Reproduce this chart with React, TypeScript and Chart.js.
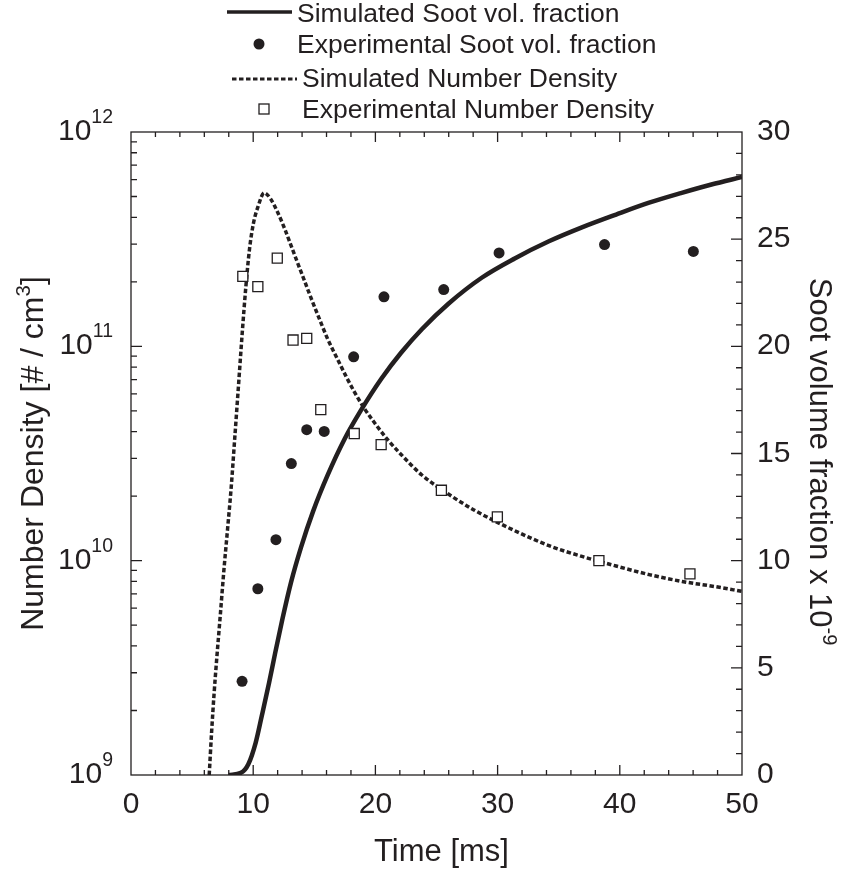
import React, { useEffect, useRef } from 'react';
import { Chart, registerables } from 'chart.js';

Chart.register(...registerables);

// ---------- data ----------
const simSootTime = [8.0, 9.0, 9.6, 10.2, 10.7, 11.3, 11.8, 12.4, 13.1, 13.9, 14.9, 16.1, 17.5, 18.8, 20.5, 22.1, 23.8, 26.0, 28.7, 31.4, 34.2, 36.9, 39.7, 42.4, 45.0, 47.5, 50.0];
const simSootValue = [0, 0.1, 0.5, 1.5, 2.75, 4.3, 5.7, 7.3, 9.0, 10.6, 12.3, 14.0, 15.7, 17.0, 18.5, 19.7, 20.8, 22.0, 23.2, 24.1, 24.9, 25.55, 26.15, 26.7, 27.15, 27.55, 27.9];

const expSootTime = [9.09, 10.38, 11.86, 13.12, 14.38, 15.81, 18.22, 20.7, 25.59, 30.12, 38.75, 46.02];
const expSootValue = [4.37, 8.69, 10.98, 14.53, 16.11, 16.03, 19.51, 22.31, 22.65, 24.36, 24.75, 24.43];

const simNdTime = [6.4, 6.6, 6.8, 7.0, 7.3, 7.6, 7.9, 8.2, 8.5, 8.8, 9.1, 9.4, 9.7, 10.0, 10.4, 10.9, 11.4, 12.0, 12.6, 13.1, 13.6, 14.2, 14.7, 15.4, 16.1, 16.9, 17.6, 18.3, 19.1, 19.9, 21.0, 22.1, 23.8, 26.0, 28.1, 31.4, 34.2, 36.9, 39.7, 42.4, 45.1, 47.9, 50.0];
const simNdValue = [1e9, 1.6e9, 2.4e9, 3.4e9, 5.5e9, 9.0e9, 1.4e10, 2.2e10, 3.8e10, 6.6e10, 1.15e11, 1.9e11, 2.85e11, 3.7e11, 4.5e11, 5.2e11, 4.9e11, 4.22e11, 3.51e11, 2.95e11, 2.48e11, 2.02e11, 1.7e11, 1.35e11, 1.08e11, 8.71e10, 7.24e10, 6.1e10, 5.13e10, 4.42e10, 3.67e10, 3.13e10, 2.51e10, 2.04e10, 1.72e10, 1.38e10, 1.175e10, 1.047e10, 9.44e9, 8.61e9, 8.0e9, 7.55e9, 7.19e9];

const expNdTime = [9.15, 10.38, 11.97, 13.26, 14.38, 15.53, 18.27, 20.47, 25.4, 29.98, 38.29, 45.74];
const expNdValue = [2.12e11, 1.9e11, 2.58e11, 1.07e11, 1.09e11, 5.07e10, 3.92e10, 3.48e10, 2.13e10, 1.6e10, 1.0e10, 8.67e9];

const xTickValues = [0, 10, 20, 30, 40, 50];
const xTickLabels = ['0', '10', '20', '30', '40', '50'];
const leftTickExponents = [9, 10, 11, 12];
const rightTickValues = [0, 5, 10, 15, 20, 25, 30];
const rightTickLabels = ['0', '5', '10', '15', '20', '25', '30'];

const legendLabels = [
  'Simulated Soot vol. fraction',
  'Experimental Soot vol. fraction',
  'Simulated Number Density',
  'Experimental Number Density',
];

// ---------- styling ----------
const INK = '#231f20';
const FONT = '"Liberation Sans", Arial, Helvetica, sans-serif';

type Part = { text: string; sup?: boolean };

function drawRich(
  ctx: CanvasRenderingContext2D,
  parts: Part[],
  x: number,
  y: number,
  size: number,
  supSize: number,
  supRaise: number,
  align: 'left' | 'center' | 'right'
) {
  ctx.textAlign = 'left';
  ctx.textBaseline = 'alphabetic';
  const widths = parts.map((p) => {
    ctx.font = `${p.sup ? supSize : size}px ${FONT}`;
    return ctx.measureText(p.text).width;
  });
  const total = widths.reduce((a, b) => a + b, 0);
  let cx = align === 'center' ? x - total / 2 : align === 'right' ? x - total : x;
  parts.forEach((p, i) => {
    ctx.font = `${p.sup ? supSize : size}px ${FONT}`;
    ctx.fillText(p.text, cx, p.sup ? y - supRaise : y);
    cx += widths[i];
  });
}

const framePlugin = {
  id: 'frame',
  afterDraw(chart: any) {
    const { ctx, chartArea: a, scales } = chart;
    const xs = scales.x;
    const ys = scales.y;
    const y2s = scales.y2;
    ctx.save();
    ctx.strokeStyle = INK;
    ctx.fillStyle = INK;
    ctx.lineWidth = 1.3;
    ctx.strokeRect(a.left, a.top, a.right - a.left, a.bottom - a.top);

    ctx.beginPath();
    // x ticks (bottom and top), inward
    for (let t = 2; t < 50; t += 2) {
      const px = xs.getPixelForValue(t);
      const len = t % 10 === 0 ? 10 : 5;
      ctx.moveTo(px, a.bottom);
      ctx.lineTo(px, a.bottom - len);
      ctx.moveTo(px, a.top);
      ctx.lineTo(px, a.top + len);
    }
    // left log ticks
    for (let e = 9; e < 12; e++) {
      for (let m = 1; m < 10; m++) {
        if (e === 9 && m === 1) continue;
        const v = m * Math.pow(10, e);
        const py = ys.getPixelForValue(v);
        const len = m === 1 ? 11 : 6;
        ctx.moveTo(a.left, py);
        ctx.lineTo(a.left + len, py);
      }
    }
    // right linear ticks
    for (let s = 1; s < 30; s++) {
      const py = y2s.getPixelForValue(s);
      const len = s % 5 === 0 ? 11 : 6;
      ctx.moveTo(a.right, py);
      ctx.lineTo(a.right - len, py);
    }
    ctx.stroke();

    // tick labels
    const tickSize = 30;
    xTickValues.forEach((v, i) => {
      drawRich(ctx, [{ text: xTickLabels[i] }], xs.getPixelForValue(v), a.bottom + 38, tickSize, 19, 0, 'center');
    });
    leftTickExponents.forEach((e) => {
      const py = ys.getPixelForValue(Math.pow(10, e));
      drawRich(ctx, [{ text: '10' }, { text: String(e), sup: true }], a.left - 18, py + 8, tickSize, 19.5, 17, 'right');
    });
    rightTickValues.forEach((v, i) => {
      const py = y2s.getPixelForValue(v);
      drawRich(ctx, [{ text: rightTickLabels[i] }], a.right + 15, py + 8, tickSize, 19, 0, 'left');
    });

    // axis titles
    drawRich(ctx, [{ text: 'Time [ms]' }], (a.left + a.right) / 2 + 5, 861, 31, 20, 0, 'center');

    ctx.save();
    ctx.translate(43, (a.top + a.bottom) / 2);
    ctx.rotate(-Math.PI / 2);
    drawRich(ctx, [{ text: 'Number Density [# / cm' }, { text: '3', sup: true }, { text: ']' }], 0, 0, 32, 20.5, 13, 'center');
    ctx.restore();

    ctx.save();
    ctx.translate(810, (a.top + a.bottom) / 2 + 8);
    ctx.rotate(Math.PI / 2);
    drawRich(ctx, [{ text: 'Soot volume fraction x 10' }, { text: '-9', sup: true }], 0, 0, 31, 20, 13, 'center');
    ctx.restore();

    // legend
    const lgSize = 26.5;
    // row 1: solid line
    ctx.lineWidth = 3.5;
    ctx.setLineDash([]);
    ctx.beginPath();
    ctx.moveTo(227, 12);
    ctx.lineTo(292, 12);
    ctx.stroke();
    drawRich(ctx, [{ text: legendLabels[0] }], 297, 22, lgSize, 18, 0, 'left');
    // row 2: filled circle
    ctx.beginPath();
    ctx.arc(259, 44, 5.5, 0, Math.PI * 2);
    ctx.fill();
    drawRich(ctx, [{ text: legendLabels[1] }], 297, 53, lgSize, 18, 0, 'left');
    // row 3: dashed line
    ctx.lineWidth = 3;
    ctx.setLineDash([4.5, 2.5]);
    ctx.beginPath();
    ctx.moveTo(232, 79);
    ctx.lineTo(297, 79);
    ctx.stroke();
    ctx.setLineDash([]);
    drawRich(ctx, [{ text: legendLabels[2] }], 302, 87, lgSize, 18, 0, 'left');
    // row 4: open square
    ctx.lineWidth = 1.3;
    ctx.fillStyle = '#ffffff';
    ctx.fillRect(259, 104, 10, 10);
    ctx.strokeRect(259, 104, 10, 10);
    ctx.fillStyle = INK;
    drawRich(ctx, [{ text: legendLabels[3] }], 302, 118, lgSize, 18, 0, 'left');

    ctx.restore();
  },
};

export default function App() {
  const canvasRef = useRef<HTMLCanvasElement | null>(null);

  useEffect(() => {
    const canvas = canvasRef.current;
    if (!canvas) return;
    const chart = new Chart(canvas, {
      type: 'line',
      data: {
        datasets: [
          {
            label: legendLabels[0],
            data: simSootTime.map((t, i) => ({ x: t, y: simSootValue[i] })),
            yAxisID: 'y2',
            borderColor: INK,
            borderWidth: 4.5,
            pointRadius: 0,
            fill: false,
            cubicInterpolationMode: 'monotone',
            order: 2,
          },
          {
            label: legendLabels[1],
            data: expSootTime.map((t, i) => ({ x: t, y: expSootValue[i] })),
            yAxisID: 'y2',
            showLine: false,
            pointStyle: 'circle',
            pointRadius: 5.5,
            pointBackgroundColor: INK,
            pointBorderColor: INK,
            pointBorderWidth: 0,
            order: 1,
          },
          {
            label: legendLabels[2],
            data: simNdTime.map((t, i) => ({ x: t, y: simNdValue[i] })),
            yAxisID: 'y',
            borderColor: INK,
            borderWidth: 3.5,
            borderDash: [4.5, 2.5],
            borderCapStyle: 'butt',
            pointRadius: 0,
            fill: false,
            cubicInterpolationMode: 'monotone',
            order: 3,
          },
          {
            label: legendLabels[3],
            data: expNdTime.map((t, i) => ({ x: t, y: expNdValue[i] })),
            yAxisID: 'y',
            showLine: false,
            pointStyle: 'rect',
            pointRadius: 7.1,
            pointBackgroundColor: '#ffffff',
            pointBorderColor: INK,
            pointBorderWidth: 1.3,
            order: 0,
          },
        ],
      },
      options: {
        responsive: false,
        animation: false,
        events: [],
        layout: { padding: { left: 131, top: 132, right: 102, bottom: 95 } },
        plugins: { legend: { display: false }, tooltip: { enabled: false } },
        scales: {
          x: { type: 'linear', min: 0, max: 50, display: false },
          y: { type: 'logarithmic', min: 1e9, max: 1e12, display: false, position: 'left' },
          y2: { type: 'linear', min: 0, max: 30, display: false, position: 'right' },
        },
      },
      plugins: [framePlugin],
    } as any);
    return () => chart.destroy();
  }, []);

  return (
    <div style={{ position: 'absolute', left: 0, top: 0, width: 844, height: 870, background: '#ffffff' }}>
      <canvas ref={canvasRef} width={844} height={870} style={{ display: 'block' }} />
    </div>
  );
}
